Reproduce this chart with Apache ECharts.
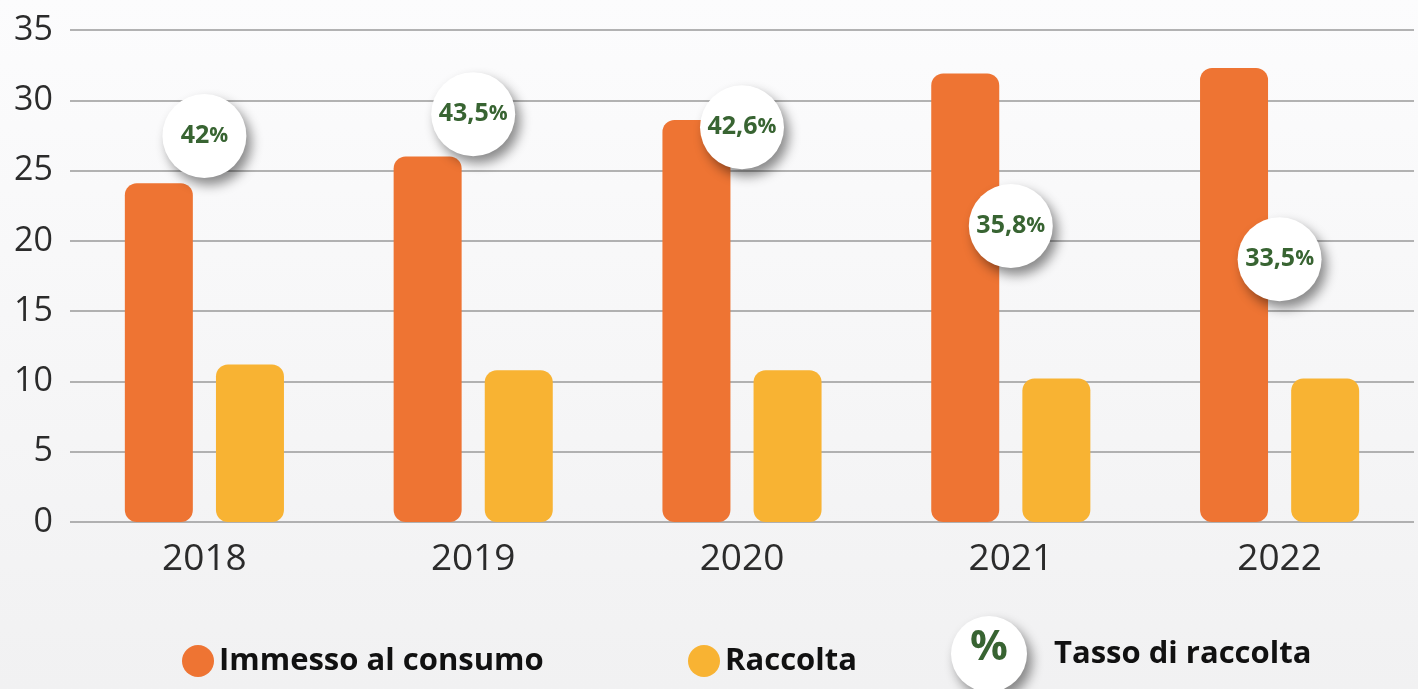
<!DOCTYPE html>
<html>
<head>
<meta charset="utf-8">
<script src="https://cdn.jsdelivr.net/npm/echarts@6/dist/echarts.min.js"></script>
<style>
  html, body { margin: 0; padding: 0; }
  #chart { width: 1418px; height: 689px; }
</style>
</head>
<body>
<div id="chart"></div>
<script>
// dati
const years = ['2018', '2019', '2020', '2021', '2022']
const immesso = [24.1, 26.0, 28.6, 31.9, 32.3]
const raccolta = [11.2, 10.8, 10.8, 10.2, 10.2]
const tasso = [42, 43.5, 42.6, 35.8, 33.5]
const yTicks = [0, 5, 10, 15, 20, 25, 30, 35]

const FONT = "'Open Sans', 'Noto Sans', sans-serif"
const ORANGE = '#EE7433'
const YELLOW = '#F8B333'
const GREEN = '#386432'

const chart = echarts.init(document.getElementById('chart'))

const shadowCircle = {
  color: '#ffffff',
  opacity: 1,
  shadowBlur: 12,
  shadowOffsetX: 5,
  shadowOffsetY: 7,
  shadowColor: 'rgba(0, 0, 0, 0.45)'
}

const legendText = { fontFamily: FONT, fontSize: 31, fontWeight: 'bold', color: '#111' }

const option = {
  backgroundColor: new echarts.graphic.LinearGradient(0, 0, 0, 1, [
    { offset: 0, color: '#fcfcfd' },
    { offset: 1, color: '#f1f1f2' }
  ]),
  animation: false,
  grid: { left: 70, right: 4, top: 30, bottom: 167 },
  xAxis: {
    type: 'category',
    data: years,
    axisLine: { show: false },
    axisTick: { show: false },
    axisLabel: { margin: 19, fontFamily: FONT, fontSize: 37, color: '#2b2b2b' }
  },
  yAxis: [
    {
      type: 'value',
      min: yTicks[0],
      max: yTicks[yTicks.length - 1],
      interval: 5,
      axisLine: { show: false },
      axisTick: { show: false },
      axisLabel: { margin: 17, fontFamily: FONT, fontSize: 34, color: '#2b2b2b' },
      splitLine: { lineStyle: { color: '#9a9a9a', width: 1.5 } }
    },
    {
      type: 'value',
      min: 15.4,
      max: 49.3,
      show: false,
      splitLine: { show: false }
    }
  ],
  legend: [
    {
      data: ['Immesso al consumo'],
      left: 177, top: 640,
      icon: 'circle', itemWidth: 32, itemHeight: 32, itemGap: 10,
      textStyle: legendText
    },
    {
      data: ['Raccolta'],
      left: 683, top: 640,
      icon: 'circle', itemWidth: 32, itemHeight: 32,
      textStyle: legendText
    },
    {
      data: ['Tasso di raccolta'],
      left: 946, top: 611,
      icon: 'circle', itemWidth: 76, itemHeight: 76, itemGap: 10,
      itemStyle: shadowCircle,
      textStyle: Object.assign({}, legendText, { padding: [0, 0, 0, 22] })
    }
  ],
  graphic: [
    {
      type: 'text',
      x: 989, y: 648,
      z: 100,
      style: {
        text: '%', fontFamily: FONT, fontSize: 42, fontWeight: 'bold', fill: GREEN,
        align: 'center', verticalAlign: 'middle'
      }
    }
  ],
  series: [
    {
      name: 'Immesso al consumo',
      type: 'bar',
      data: immesso,
      barWidth: 68,
      barGap: '34%',
      itemStyle: { color: ORANGE, borderRadius: 12 }
    },
    {
      name: 'Raccolta',
      type: 'bar',
      data: raccolta,
      barWidth: 68,
      barGap: '34%',
      itemStyle: { color: YELLOW, borderRadius: 12 }
    },
    {
      name: 'Tasso di raccolta',
      type: 'scatter',
      yAxisIndex: 1,
      data: tasso,
      symbol: 'circle',
      symbolSize: 84,
      z: 10,
      itemStyle: shadowCircle,
      label: {
        show: true,
        position: 'inside',
        formatter: p => '{n|' + String(p.value).replace('.', ',') + '}{p|%}',
        rich: {
          n: { fontFamily: FONT, fontSize: 25, fontWeight: 'bold', color: GREEN },
          p: { fontFamily: FONT, fontSize: 21, fontWeight: 'bold', color: GREEN }
        }
      }
    }
  ]
}

chart.setOption(option)
</script>
</body>
</html>
